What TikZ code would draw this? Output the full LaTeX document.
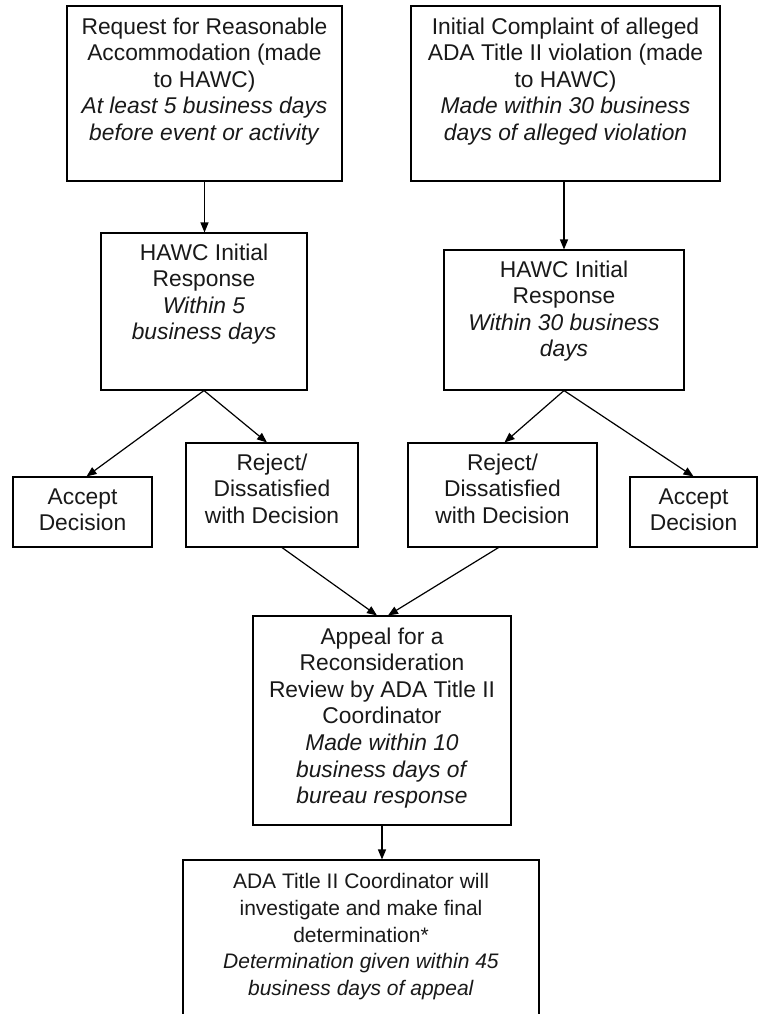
\documentclass[tikz,border=0pt]{standalone}
\usepackage{fontspec}
\setmainfont{Liberation Sans}
\usetikzlibrary{arrows.meta,calc}
\begin{document}
\begin{tikzpicture}[x=1pt,y=1pt,
  box/.style={draw=black, line width=1.1pt, inner sep=0pt},
  txt/.style={anchor=north, align=center, inner sep=0pt, text=black!90,
    font={\fontsize{22.8}{26.6}\selectfont}},
  arr/.style={draw=black, line width=1.2pt, -{Triangle[length=10pt,width=8pt]}}]
\useasboundingbox (0,0) rectangle (759,-1014);
\clip (0,0) rectangle (759,-1014);
\fill[white] (0,0) rectangle (759,-1014);
% boxes
\node[box, minimum width=275pt, minimum height=175pt] (b1) at (204.5,-93.5) {};
\node[box, minimum width=309pt, minimum height=175pt] (b2) at (565.5,-93.5) {};
\node[box, minimum width=206pt, minimum height=157pt] (h1) at (204,-311.5) {};
\node[box, minimum width=240pt, minimum height=140pt] (h2) at (564,-320) {};
\node[box, minimum width=139pt, minimum height=70pt] (a1) at (82.5,-512) {};
\node[box, minimum width=172pt, minimum height=104pt] (r1) at (272,-495) {};
\node[box, minimum width=189pt, minimum height=104pt] (r2) at (502.5,-495) {};
\node[box, minimum width=127pt, minimum height=70pt] (a2) at (693.5,-512) {};
\node[box, minimum width=258pt, minimum height=209pt] (ap) at (382,-720.5) {};
\node[box, minimum width=356pt, minimum height=170pt] (fn) at (361,-945) {};
% texts
\node[txt] (b1t) at ([yshift=-12pt]b1.north) {Request for Reasonable\\Accommodation (made\\to HAWC)\\\textit{At least 5 business days}\\\textit{before event or activity}};
\node[txt] (b2t) at ([yshift=-12pt]b2.north) {Initial Complaint of alleged\\ADA Title II violation (made\\to HAWC)\\\textit{Made within 30 business}\\\textit{days of alleged violation}};
\node[txt] (h1t) at ([yshift=-11pt]h1.north) {HAWC Initial\\Response\\\textit{Within 5}\\\textit{business days}};
\node[txt] (h2t) at ([yshift=-11pt]h2.north) {HAWC Initial\\Response\\\textit{Within 30 business}\\\textit{days}};
\node[txt] (a1t) at ([yshift=-12pt]a1.north) {Accept\\Decision};
\node[txt] (r1t) at ([yshift=-11pt]r1.north) {Reject/\\Dissatisfied\\with Decision};
\node[txt] (r2t) at ([yshift=-11pt]r2.north) {Reject/\\Dissatisfied\\with Decision};
\node[txt] (a2t) at ([yshift=-12pt]a2.north) {Accept\\Decision};
\node[txt] (apt) at ([yshift=-12pt]ap.north) {Appeal for a\\Reconsideration\\Review by ADA Title II\\Coordinator\\\textit{Made within 10}\\\textit{business days of}\\\textit{bureau response}};
\node[txt, font={\fontsize{21}{26.6}\selectfont}] (fnt) at ([yshift=-14pt]fn.north) {ADA Title II Coordinator will\\investigate and make final\\determination*\\\textit{Determination given within 45}\\\textit{business days of appeal}};
% connectors
\draw[arr] (b1.south) -- (b1.south |- h1.north);
\draw[arr] (h2.north |- b2.south) -- (h2.north);
\draw[arr] (h1.south) -- ([xshift=4pt]a1.north);
\draw[arr] (h1.south) -- ([xshift=-5pt]r1.north);
\draw[arr] (h2.south) -- ([xshift=2pt]r2.north);
\draw[arr] (h2.south) -- (a2.north);
\draw[arr] ([xshift=10pt]r1.south) -- ([xshift=-5pt]ap.north);
\draw[arr] ([xshift=-4pt]r2.south) -- ([xshift=6pt]ap.north);
\draw[arr] (ap.south) -- (ap.south |- fn.north);
\end{tikzpicture}
\end{document}
